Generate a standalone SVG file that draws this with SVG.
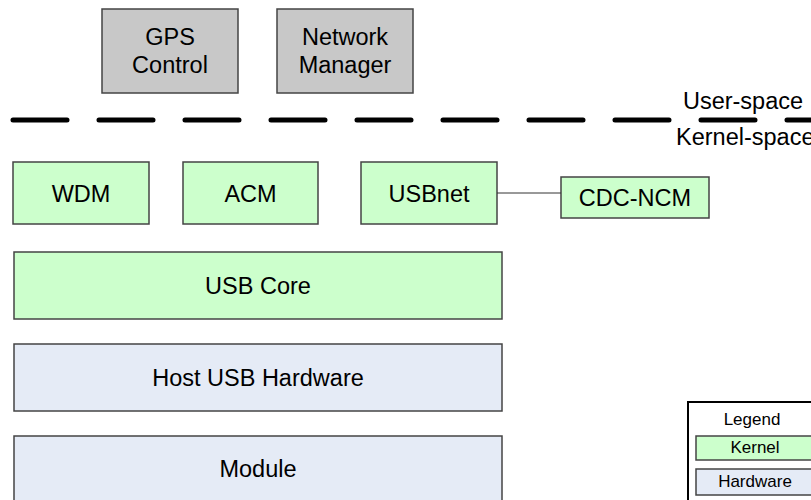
<svg xmlns="http://www.w3.org/2000/svg" width="811" height="500" viewBox="0 0 811 500">
<style>
text{font-family:"Liberation Sans",Arial,sans-serif;fill:#000;text-anchor:middle}
.t{font-size:23.5px}
.s{font-size:17px}
.user{fill:#c8c8c8;stroke:#444;stroke-width:1.5}
.kern{fill:#ccffcc;stroke:#444;stroke-width:1.5}
.hw{fill:#e5ebf6;stroke:#444;stroke-width:1.5}
.sep{stroke:#000;stroke-width:5;stroke-linecap:round;stroke-dasharray:54 32;fill:none}
</style>
<rect width="811" height="500" fill="#fff"/>
<g id="gps"><rect class="user" x="102" y="9" width="136" height="84"/><text class="t" x="170" y="45">GPS</text><text class="t" x="170" y="73">Control</text></g>
<g id="netmgr"><rect class="user" x="277" y="9" width="136" height="84"/><text class="t" x="345" y="45">Network</text><text class="t" x="345" y="73">Manager</text></g>
<g id="separator"><line class="sep" x1="13" y1="120" x2="830" y2="120"/><text class="t" x="743" y="109">User-space</text><text class="t" x="676" y="145" style="text-anchor:start">Kernel-space</text></g>
<g id="wdm"><rect class="kern" x="13" y="162" width="136" height="62"/><text class="t" x="81" y="201.5">WDM</text></g>
<g id="acm"><rect class="kern" x="183" y="162" width="135" height="62"/><text class="t" x="250.5" y="201.5">ACM</text></g>
<g id="usbnet"><rect class="kern" x="361" y="162" width="136" height="62"/><text class="t" x="429" y="201.5">USBnet</text></g>
<g id="cdcncm"><rect class="kern" x="561" y="177" width="148" height="41"/><text class="t" x="635" y="206">CDC-NCM</text></g>
<g id="usbcore"><rect class="kern" x="14" y="252" width="488" height="67"/><text class="t" x="258" y="294">USB Core</text></g>
<g id="hostusb"><rect class="hw" x="14" y="344" width="488" height="67"/><text class="t" x="258" y="386">Host USB Hardware</text></g>
<g id="module"><rect class="hw" x="14" y="436" width="488" height="67"/><text class="t" x="258" y="477">Module</text></g>
<g id="connectors"><line x1="497" y1="193" x2="561" y2="193" stroke="#333" stroke-width="1"/></g>
<g id="legend"><rect x="688" y="402" width="140" height="110" fill="#fff" stroke="#000" stroke-width="2"/><text class="s" x="752" y="425">Legend</text>
<rect class="kern" x="696" y="436" width="130" height="24" stroke-width="1"/><text class="s" x="755" y="453">Kernel</text>
<rect class="hw" x="696" y="469" width="130" height="26" stroke-width="1"/><text class="s" x="755" y="487">Hardware</text></g>
</svg>
